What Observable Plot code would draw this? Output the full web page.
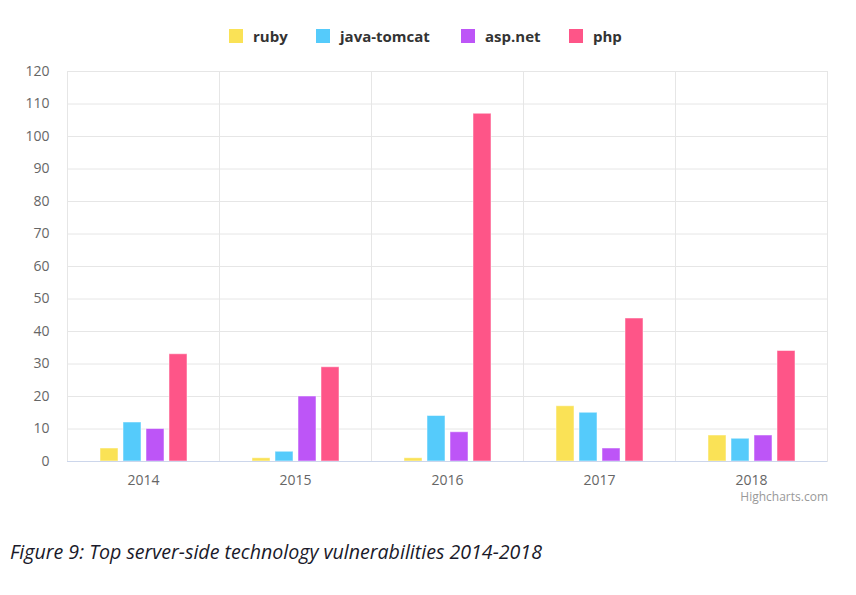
<!DOCTYPE html>
<html>
<head>
<meta charset="utf-8">
<script src="https://cdn.jsdelivr.net/npm/d3@7"></script>
<script src="https://cdn.jsdelivr.net/npm/@observablehq/plot@0.6"></script>
<style>
  html, body { margin: 0; padding: 0; background: #fff; }
  #wrap { position: relative; width: 856px; height: 595px; font-family: "Open Sans", sans-serif; }
  #legend { position: absolute; top: 26px; left: 0; width: 856px; height: 20px; }
  .item { position: absolute; top: 0; display: flex; align-items: center; font-weight: bold; font-size: 15px; color: #333; }
  .sw { width: 14px; height: 14px; margin-right: 10px; }
  #chart { position: absolute; top: 56px; left: 0; }
  #credit { position: absolute; top: 488px; right: 28px; font-size: 12px; color: #999; }
  #caption { position: absolute; top: 538px; left: 10px; font-size: 19.6px; font-style: italic; color: #1a1a2a; }
</style>
</head>
<body>
<div id="wrap">
  <div id="legend"></div>
  <div id="chart"></div>
  <div id="credit">Highcharts.com</div>
  <div id="caption">Figure 9: Top server-side technology vulnerabilities 2014-2018</div>
</div>
<script>
const years = ["2014", "2015", "2016", "2017", "2018"];
const series = ["ruby", "java-tomcat", "asp.net", "php"];
const colors = ["#fae256", "#55cbfb", "#bd55f7", "#fe5588"];
const ruby = [4, 1, 1, 17, 8];
const javaTomcat = [12, 3, 14, 15, 7];
const aspNet = [10, 20, 9, 4, 8];
const php = [33, 29, 107, 44, 34];
const yTicks = [0, 10, 20, 30, 40, 50, 60, 70, 80, 90, 100, 110, 120];
const legendX = [229, 316, 461, 569];

const valuesBySeries = [ruby, javaTomcat, aspNet, php];
const data = years.flatMap((yr, i) =>
  series.map((s, j) => ({ year: yr, series: s, value: valuesBySeries[j][i] }))
);

const legend = document.getElementById("legend");
series.forEach((s, j) => {
  const it = document.createElement("div");
  it.className = "item";
  it.style.left = legendX[j] + "px";
  const sw = document.createElement("div");
  sw.className = "sw";
  sw.style.background = colors[j];
  const tx = document.createElement("span");
  tx.textContent = s;
  it.appendChild(sw);
  it.appendChild(tx);
  legend.appendChild(it);
});

const chart = Plot.plot({
  width: 856,
  height: 460,
  marginTop: 15,
  marginLeft: 66,
  marginRight: 28,
  marginBottom: 55,
  style: { fontFamily: "Open Sans, sans-serif", fontSize: "14px", color: "#666", background: "#fff" },
  fx: { domain: years, padding: 0, label: null, axis: null },
  x: { domain: series, paddingInner: 0.22, paddingOuter: 1.4, axis: null },
  y: { domain: [0, 120], label: null, axis: null },
  color: { domain: series, range: colors },
  marks: [
    Plot.gridY(yTicks, { stroke: "#e6e6e6", strokeOpacity: 1 }),
    Plot.frame({ stroke: "#e6e6e6", strokeOpacity: 1 }),
    Plot.barY(data, { fx: "year", x: "series", y: "value", fill: "series", stroke: "#ffffff", strokeOpacity: 0.5, strokeWidth: 1 }),
    Plot.ruleY([0], { stroke: "#ccd6eb" }),
    Plot.axisY(yTicks, { tickSize: 0, tickPadding: 18, label: null, fill: "#666", fontSize: 14 }),
    Plot.axisFx({ anchor: "bottom", tickSize: 0, tickPadding: 14, label: null, fill: "#666", fontSize: 14 })
  ]
});
document.getElementById("chart").appendChild(chart);
</script>
</body>
</html>
